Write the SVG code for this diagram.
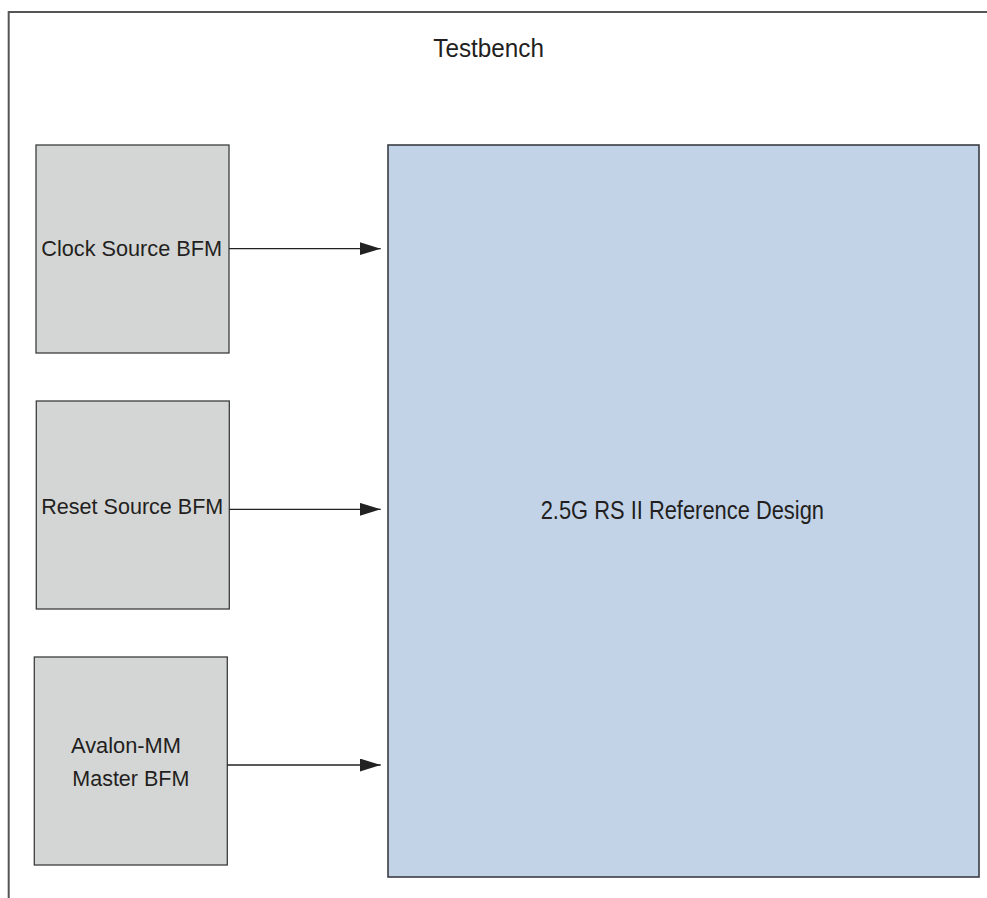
<svg xmlns="http://www.w3.org/2000/svg" width="987" height="898" viewBox="0 0 987 898">
  <style>
    .frame { fill: none; stroke: #555; stroke-width: 2; }
    .bfm { fill: #d4d6d6; stroke: #3c3c3c; stroke-width: 1.3; }
    .dut { fill: #c2d3e8; stroke: #3a3d44; stroke-width: 1.6; }
    .wire { stroke: #222; stroke-width: 1.3; fill: none; }
    .lbl { font-family: "Liberation Sans", Arial, Helvetica, sans-serif; fill: #231f20; }
  </style>
  <defs>
    <marker id="arrow" markerUnits="userSpaceOnUse" markerWidth="22" markerHeight="14" refX="21" refY="6.5" orient="auto">
      <path d="M0,0 L21,6.5 L0,13 Z" fill="#222"/>
    </marker>
  </defs>

  <rect width="987" height="898" fill="#fff"/>

  <!-- testbench boundary (open on right and bottom) -->
  <g id="testbench">
    <path class="frame" d="M8.7,898 V12 H987"/>
    <text class="lbl" x="433.3" y="57.3" font-size="26" textLength="110.7" lengthAdjust="spacingAndGlyphs">Testbench</text>
  </g>

  <g id="clock-source-bfm">
    <rect class="bfm" x="36" y="145" width="193" height="208"/>
    <text class="lbl" x="41.3" y="256" font-size="22.5" textLength="180.7" lengthAdjust="spacingAndGlyphs">Clock Source BFM</text>
  </g>

  <g id="reset-source-bfm">
    <rect class="bfm" x="36.3" y="401" width="193" height="208"/>
    <text class="lbl" x="41.3" y="514" font-size="22.5" textLength="182" lengthAdjust="spacingAndGlyphs">Reset Source BFM</text>
  </g>

  <g id="avalon-mm-master-bfm">
    <rect class="bfm" x="34.3" y="657" width="193" height="208"/>
    <text class="lbl" x="71" y="753.3" font-size="22.5" textLength="110" lengthAdjust="spacingAndGlyphs">Avalon-MM</text>
    <text class="lbl" x="72.3" y="786" font-size="22.5" textLength="117" lengthAdjust="spacingAndGlyphs">Master BFM</text>
  </g>

  <g id="reference-design">
    <rect class="dut" x="388" y="145" width="591" height="732"/>
    <text class="lbl" x="540.7" y="519.3" font-size="25.5" textLength="283.3" lengthAdjust="spacingAndGlyphs">2.5G RS II Reference Design</text>
  </g>

  <g id="connectors">
    <line class="wire" x1="229" y1="248.7" x2="380.7" y2="248.7" marker-end="url(#arrow)"/>
    <line class="wire" x1="229.3" y1="509.3" x2="380.7" y2="509.3" marker-end="url(#arrow)"/>
    <line class="wire" x1="227.3" y1="765" x2="380.7" y2="765" marker-end="url(#arrow)"/>
  </g>
</svg>
